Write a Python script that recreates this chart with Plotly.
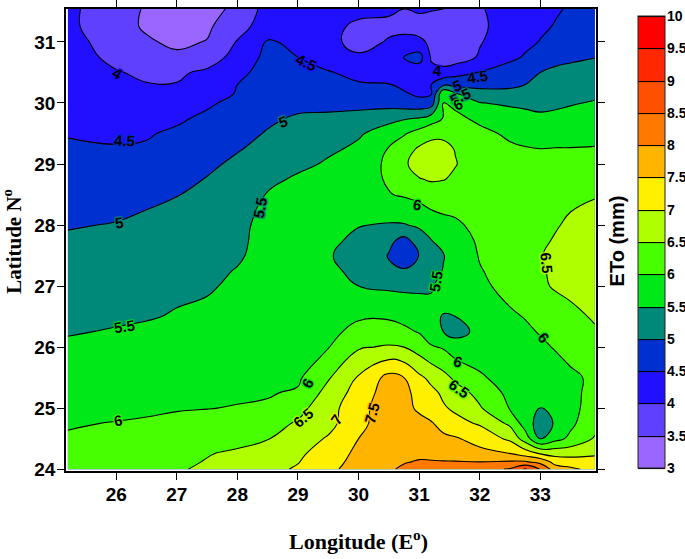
import plotly.graph_objects as go

lons = [25.2,26,26.5,27,27.5,28,28.5,29,29.5,30,30.5,30.75,31,31.2,31.4,31.6,32,32.5,32.75,33,33.25,33.5,33.9]
lats = [24,24.12,24.25,24.5,24.75,25,25.25,25.5,26,26.25,26.5,27,27.25,27.5,27.75,28,28.5,28.75,29,29.25,29.5,29.75,30,30.15,30.3,30.5,30.75,31,31.25,31.54]
eto = [
[6.25,6.3,6.38,6.47,6.55,6.68,6.88,7.05,7.38,7.72,7.96,8.05,8.1,8.12,8.15,8.18,8.3,8.55,9.05,8.47,7.75,7.6,7.35],
[6.2,6.25,6.32,6.42,6.52,6.62,6.82,6.98,7.3,7.67,7.92,7.98,8.02,8.02,8.02,8.02,8.0,8.05,8.05,7.85,7.3,7.22,7.15],
[6.15,6.2,6.27,6.37,6.48,6.57,6.75,6.92,7.22,7.62,7.88,7.94,7.95,7.92,7.85,7.8,7.65,7.52,7.3,7.0,6.85,6.85,6.95],
[6.05,6.12,6.15,6.22,6.28,6.37,6.48,6.75,7.05,7.5,7.78,7.82,7.8,7.72,7.62,7.55,7.32,6.9,6.25,5.45,5.85,6.1,6.55],
[5.96,6.02,6.05,6.1,6.15,6.23,6.33,6.55,6.85,7.35,7.8,7.75,7.65,7.55,7.3,7.15,6.95,6.4,5.78,5.25,5.55,5.9,6.35],
[5.8,5.88,5.93,5.97,5.99,6.02,6.05,6.35,6.8,7.35,7.75,7.65,7.42,7.2,7.05,6.92,6.55,5.97,5.68,5.49,5.62,5.9,6.15],
[5.74,5.8,5.84,5.88,5.91,5.94,5.97,6.05,6.68,7.2,7.75,7.65,7.32,7.12,6.92,6.72,6.35,5.87,5.68,5.6,5.7,5.9,6.12],
[5.68,5.72,5.75,5.78,5.82,5.85,5.88,5.93,6.45,7.05,7.65,7.5,7.1,6.88,6.65,6.4,6.08,5.75,5.72,5.72,5.8,5.9,6.1],
[5.55,5.58,5.62,5.68,5.73,5.78,5.82,5.88,5.98,6.45,6.55,6.5,6.28,6.05,5.95,5.75,5.68,5.72,5.8,5.92,6.03,6.18,6.35],
[5.48,5.52,5.55,5.6,5.67,5.75,5.81,5.86,5.93,6.08,6.18,6.1,5.97,5.72,5.5,5.33,5.62,5.82,5.92,6.03,6.13,6.28,6.45],
[5.42,5.46,5.48,5.52,5.62,5.72,5.8,5.85,5.9,5.97,5.95,5.87,5.75,5.6,5.48,5.5,5.74,5.93,6.02,6.12,6.25,6.38,6.55],
[5.3,5.35,5.4,5.45,5.44,5.6,5.75,5.8,5.72,5.5,5.42,5.4,5.42,5.47,5.62,5.72,5.9,6.15,6.28,6.42,6.55,6.62,6.68],
[5.22,5.27,5.32,5.38,5.41,5.52,5.7,5.76,5.63,5.35,5.2,5.08,5.2,5.35,5.52,5.68,5.97,6.2,6.32,6.45,6.58,6.65,6.7],
[5.15,5.2,5.25,5.32,5.38,5.45,5.65,5.72,5.55,5.25,4.97,4.55,5.02,5.3,5.48,5.65,6.03,6.25,6.37,6.48,6.6,6.68,6.72],
[5.06,5.11,5.17,5.27,5.35,5.43,5.62,5.72,5.6,5.4,5.12,4.85,5.22,5.49,5.65,5.78,6.07,6.23,6.33,6.43,6.53,6.62,6.67],
[4.97,5.02,5.1,5.22,5.32,5.42,5.6,5.7,5.65,5.52,5.46,5.47,5.58,5.78,5.88,5.93,6.12,6.22,6.3,6.38,6.47,6.56,6.62],
[4.8,4.83,4.9,4.98,5.15,5.35,5.52,5.68,5.8,5.9,5.98,6.05,6.15,6.22,6.22,6.22,6.22,6.25,6.27,6.3,6.35,6.42,6.48],
[4.7,4.72,4.78,4.87,5.02,5.22,5.37,5.58,5.68,5.8,6.05,6.25,6.47,6.55,6.52,6.42,6.22,6.2,6.2,6.2,6.22,6.25,6.3],
[4.62,4.62,4.68,4.78,4.92,5.08,5.22,5.38,5.56,5.7,6.1,6.42,6.72,6.78,6.75,6.52,6.25,6.18,6.15,6.12,6.12,6.13,6.15],
[4.55,4.52,4.55,4.67,4.82,4.97,5.12,5.27,5.42,5.58,6.03,6.3,6.56,6.6,6.6,6.48,6.2,6.07,6.03,6.0,6.02,6.02,6.04],
[4.48,4.45,4.46,4.58,4.72,4.87,5.03,5.15,5.25,5.45,5.7,5.95,6.2,6.42,6.42,6.28,6.12,5.92,5.83,5.75,5.72,5.75,5.78],
[4.4,4.38,4.38,4.42,4.6,4.75,4.93,5.05,5.1,5.2,5.38,5.45,5.52,5.72,6.02,6.1,5.9,5.75,5.65,5.58,5.6,5.63,5.65],
[4.33,4.3,4.28,4.3,4.42,4.65,4.88,4.88,4.85,4.82,4.78,4.72,4.65,4.75,6.0,5.9,5.52,5.42,5.4,5.38,5.42,5.47,5.53],
[4.27,4.22,4.15,4.1,4.3,4.53,4.85,4.8,4.72,4.7,4.6,4.55,4.42,4.47,5.95,5.55,5.2,5.15,5.2,5.25,5.3,5.4,5.43],
[4.2,4.12,4.02,4.02,4.17,4.5,4.72,4.68,4.58,4.54,4.52,4.4,4.32,4.5,4.92,4.85,4.85,4.9,5.0,5.1,5.2,5.28,5.35],
[4.17,4.03,3.92,3.92,4.1,4.4,4.65,4.6,4.53,4.38,4.3,4.25,4.2,4.12,4.15,4.32,4.52,4.76,4.88,5.0,5.12,5.2,5.32],
[4.22,3.88,3.68,3.58,3.72,4.2,4.62,4.5,4.28,4.05,4.25,4.52,4.7,3.95,3.78,3.75,4.05,4.38,4.55,4.72,4.82,4.88,4.98],
[4.2,3.75,3.55,3.42,3.52,4.03,4.55,4.4,4.1,3.88,4.03,4.1,4.08,3.93,3.78,3.76,3.97,4.25,4.38,4.52,4.65,4.75,4.9],
[4.12,3.65,3.45,3.25,3.42,3.85,4.2,4.25,4.1,3.93,3.93,3.9,3.85,3.8,3.78,3.78,3.92,4.2,4.32,4.42,4.53,4.62,4.8],
[4.1,3.72,3.45,3.2,3.38,3.58,4.2,4.25,4.2,4.1,4.05,4.0,4.05,4.03,4.0,3.9,3.97,4.15,4.25,4.35,4.45,4.55,4.7],
]

band_colors = ["#9966FF","#6040FF","#2010FF","#0030D0","#008878","#00E818","#48FF00",
               "#B0FF00","#FFF000","#FFB400","#FF7800","#FF5000","#FF2800","#FF0000"]
cbar_ticks = [3,3.5,4,4.5,5,5.5,6,6.5,7,7.5,8,8.5,9,9.5,10]

# contour labels: text, lon, lat, angle, band colour index
contour_labels = [
("4",26.02,30.48,30,2),("4.5",26.13,29.38,3,3),("5",26.05,28.05,-10,4),("5.5",26.13,26.33,-8,5),
("6",26.03,24.80,-10,6),("5",28.76,29.69,-20,4),("5.5",28.38,28.28,-80,4),("4.5",29.14,30.67,25,2),
("6",29.15,25.41,-60,5),("6.5",29.09,24.84,-40,7),("7",29.63,24.82,-55,8),("7.5",30.21,24.92,-75,9),
("4",31.30,30.54,5,2),("4.5",31.97,30.44,-8,3),("5",31.63,30.28,-20,3),("5.5",31.68,30.10,-25,4),
("6",31.64,29.97,-30,5),("6",30.97,28.33,10,5),("5.5",31.28,27.07,-80,5),("6.5",33.10,27.38,85,7),
("6",31.64,25.77,15,5),("6.5",31.66,25.33,35,6),("6",33.05,26.15,50,5),
]

n = len(band_colors)
colorscale = []
for i, c in enumerate(band_colors):
    colorscale.append([i / n, c])
    colorscale.append([(i + 1) / n, c])

fig = go.Figure(go.Contour(
    x=lons, y=lats, z=eto,
    zmin=3, zmax=10, autocontour=False,
    contours=dict(start=3, end=10, size=0.5, coloring="fill", showlabels=False),
    colorscale=colorscale,
    line=dict(color="black", width=1.1, smoothing=1.3),
    hoverinfo="skip",
    colorbar=dict(
        thickness=27, thicknessmode="pixels", len=452, lenmode="pixels",
        x=(638-66)/530, xanchor="left",
        y=(471-16)/462, yanchor="top", xpad=0, ypad=0,
        outlinecolor="#222", outlinewidth=1,
        tickmode="array", tickvals=cbar_ticks, showticklabels=False, ticks="",
    ),
))

# colour-bar tick labels, aligned to the bar so they fit the right edge of the page
for v in cbar_ticks:
    fig.add_annotation(
        xref="paper", yref="paper", x=(665.5-66)/530, y=(471-468+(v-3)*452/7)/462,
        xanchor="left", yanchor="middle", showarrow=False, xshift=0, text=f"<b>{v:g}</b>",
        borderpad=0, font=dict(family="Liberation Sans", size=14, color="black"),
    )

for text, lon, lat, angle, ci in contour_labels:
    c = band_colors[ci]
    fig.add_annotation(
        x=lon, y=lat, xref="x", yref="y", text=f"<b>{text}</b>", showarrow=False, textangle=angle,
        font=dict(family="Liberation Sans", size=15, color="black",
                  shadow=f"1px 1px 1px {c},-1px -1px 1px {c},1px -1px 1px {c},-1px 1px 1px {c}"),
    )

axis_style = dict(
    showline=True, linecolor="black", linewidth=1.5, mirror="ticks", ticks="outside",
    ticklen=7, tickwidth=1.2, tickcolor="black", showgrid=False, zeroline=False,
    dtick=1, ticklabelstandoff=-2,
    tickfont=dict(family="Liberation Sans", size=19, color="black", weight="bold"),
)
fig.update_xaxes(range=[25.17, 33.92], tick0=26, **axis_style)
fig.update_yaxes(range=[23.97, 31.54], tick0=24, **axis_style)

fig.add_annotation(xref="paper", yref="paper", x=(358-66)/530, y=-0.15, xanchor="center", yanchor="middle", showarrow=False,
                   text="<b>Longitude (E<sup>o</sup>)</b>",
                   font=dict(family="Liberation Serif", size=22, color="black"))
fig.add_annotation(xref="paper", yref="paper", x=(13-66)/530, y=0.496, xanchor="center", yanchor="middle", textangle=-90, showarrow=False,
                   text="<b>Latitude N<sup>o</sup></b>",
                   font=dict(family="Liberation Serif", size=21, color="black"))
fig.add_annotation(xref="paper", yref="paper", x=(617-66)/530, y=0.497, xanchor="center", yanchor="middle", textangle=-90, showarrow=False,
                   text="<b>ETo (mm)</b>",
                   font=dict(family="Liberation Sans", size=20, color="black"))

fig.update_layout(
    width=685, height=559, autosize=False,
    margin=dict(l=66, r=89, t=9, b=88, autoexpand=False),
    paper_bgcolor="white", plot_bgcolor="white",
)
fig.write_html("out.html", post_script="document.body.style.margin='0';", config={"displayModeBar": False})
